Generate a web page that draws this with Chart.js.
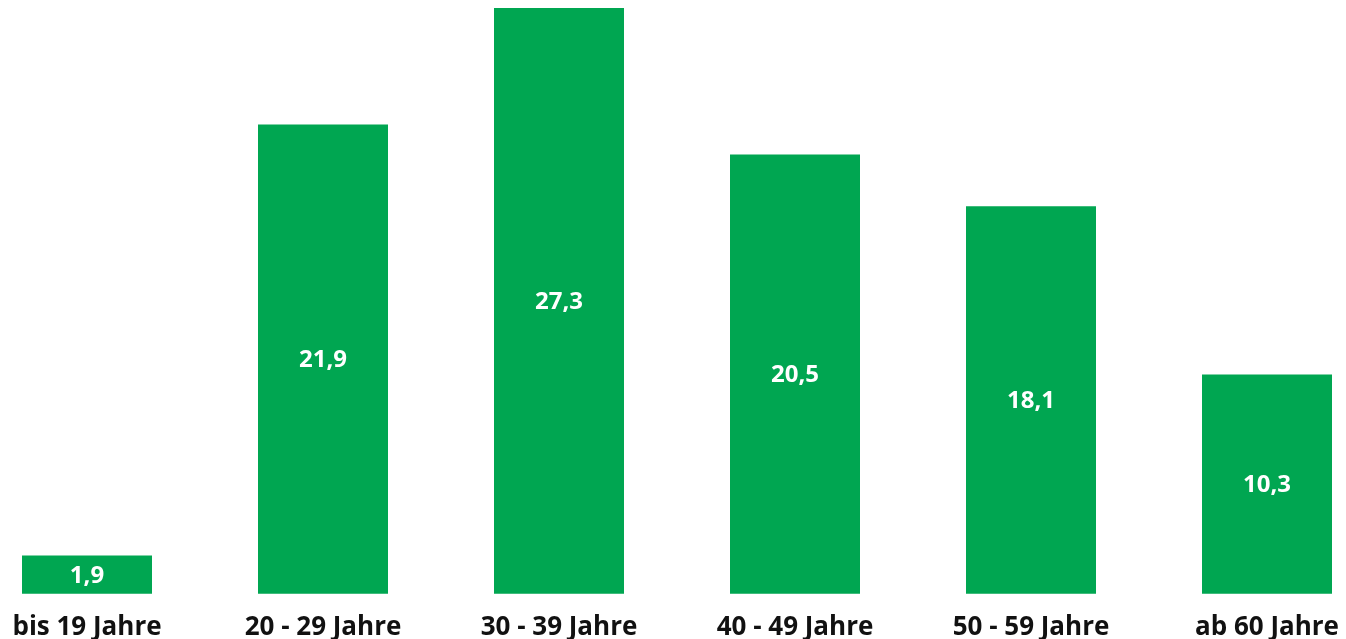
<!DOCTYPE html>
<html>
<head>
<meta charset="utf-8">
<script src="https://cdn.jsdelivr.net/npm/chart.js@4"></script>
<style>
  html, body { margin: 0; padding: 0; background: #fff; overflow: hidden; width: 1346px; height: 639px; }
  #wrap { position: absolute; left: -31px; top: 0; width: 1416px; height: 661px; }
</style>
</head>
<body>
<div id="wrap"><canvas id="ageChart"></canvas></div>
<script>
const categories = ['bis 19 Jahre', '20 - 29 Jahre', '30 - 39 Jahre', '40 - 49 Jahre', '50 - 59 Jahre', 'ab 60 Jahre'];
const shares = [1.9, 21.9, 27.3, 20.5, 18.1, 10.3];

// draws the value in the middle of each bar
const barValues = {
    id: 'barValues',
    afterDatasetsDraw(chart) {
        const ctx = chart.ctx;
        const meta = chart.getDatasetMeta(0);
        ctx.save();
        ctx.fillStyle = '#ffffff';
        ctx.font = 'bold 24px "Open Sans"';
        ctx.textAlign = 'center';
        ctx.textBaseline = 'middle';
        meta.data.forEach((bar, i) => {
            const text = shares[i].toFixed(1).replace('.', ',');
            ctx.fillText(text, bar.x, (bar.y + bar.base) / 2);
        });
        ctx.restore();
    }
};

const ctx = document.getElementById('ageChart').getContext('2d');
const ageChart = new Chart(ctx, {
    type: 'bar',
    data: {
        labels: categories,
        datasets: [{
            data: shares,
            backgroundColor: '#00a651',
            borderWidth: 0,
            categoryPercentage: 1,
            barPercentage: 130 / 236
        }]
    },
    options: {
        responsive: true,
        maintainAspectRatio: false,
        animation: false,
        layout: { padding: { top: 8, bottom: 0, left: 0, right: 0 } },
        plugins: {
            legend: { display: false },
            tooltip: { enabled: false }
        },
        scales: {
            x: {
                grid: { display: false, drawTicks: false },
                border: { display: false },
                ticks: {
                    color: '#111111',
                    font: { family: 'Open Sans', size: 26, weight: 'bold' },
                    padding: 18,
                    maxRotation: 0,
                    autoSkip: false
                }
            },
            y: {
                display: false,
                min: 0.12,
                max: 27.3
            }
        }
    },
    plugins: [barValues]
});
</script>
</body>
</html>
